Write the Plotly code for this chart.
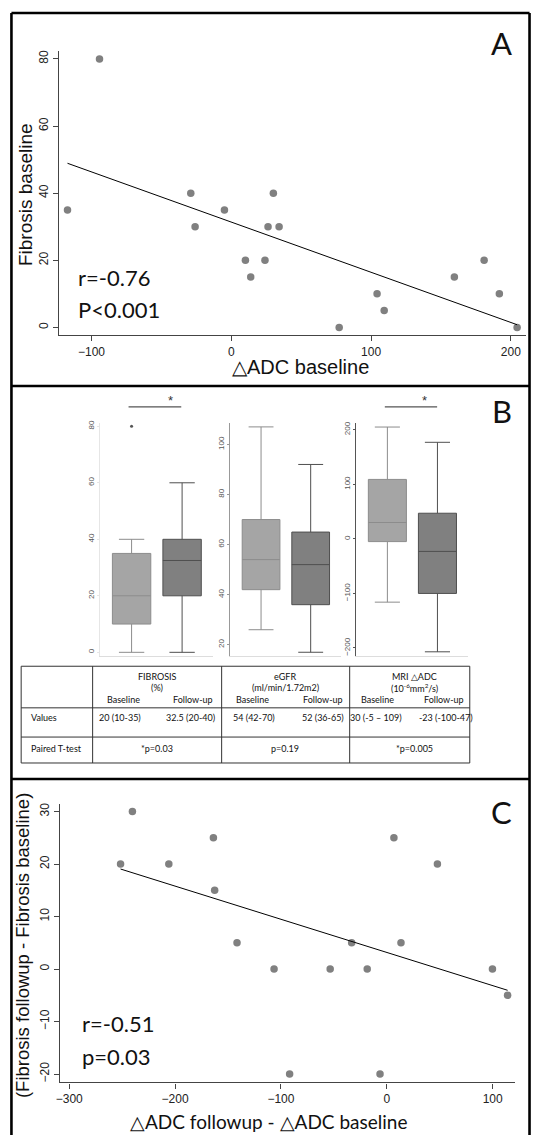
import plotly.graph_objects as go

# ---------------- data ----------------
# Panel A
a_delta_adc = [-117.2, -94.3, -29.0, -25.9, -4.9, 10.1, 13.9, 24.1, 26.3, 30.1, 34.2,
               77.2, 104.3, 109.4, 159.6, 180.9, 191.8, 204.5]
a_fibrosis = [35, 80, 40, 30, 35, 20, 15, 20, 30, 40, 30, 0, 10, 5, 15, 20, 10, 0]
a_fit_x = [-117.2, 204.5]
a_fit_y = [48.9, 0.8]
a_stats = ["r=-0.76", "P<0.001"]

# Panel B (box statistics)
groups = ["Baseline", "Follow-up"]
fib_q1 = [10, 20]; fib_med = [20, 32.5]; fib_q3 = [35, 40]; fib_lo = [0, 0]; fib_hi = [40, 60]
fib_outlier = [80]
egfr_q1 = [42, 36]; egfr_med = [54, 52]; egfr_q3 = [70, 65]; egfr_lo = [26, 17]; egfr_hi = [107, 92]
adc_q1 = [-5, -100]; adc_med = [30, -23]; adc_q3 = [109, 47]; adc_lo = [-116, -207]; adc_hi = [205, 177]

# Table
tbl_heads = ["FIBROSIS", "eGFR", "MRI △ADC"]
tbl_units = ["(%)", "(ml/min/1.72m2)", "(10<sup>-6</sup>mm<sup>2</sup>/s)"]
tbl_sub = ["Baseline", "Follow-up"] * 3
tbl_values = ["20 (10-35)", "32.5 (20-40)", "54 (42-70)", "52 (36-65)", "30 (-5 – 109)", "-23 (-100-47)"]
tbl_tests = ["*p=0.03", "p=0.19", "*p=0.005"]
tbl_rows = ["Values", "Paired T-test"]

# Panel C
c_delta_adc = [-251.5, -240.3, -205.9, -163.8, -162.6, -141.5, -106.5, -91.8, -53.5, -33.2,
               -18.5, -6.4, 6.7, 13.4, 47.8, 99.8, 114.1]
c_fibrosis = [20, 30, 20, 25, 15, 5, 0, -20, 0, 5, 0, -20, 25, 5, 20, 0, -5]
c_fit_x = [-251.5, 114.1]
c_fit_y = [19.05, -4.05]
c_stats = ["r=-0.51", "p=0.03"]

# ---------------- layout helpers ----------------
W, H = 533, 1135
def fx(p):
    return p / W
def fy(p):
    return 1 - p / H

ARIAL = "Liberation Sans, Arial, sans-serif"
CAL = "Lato, Carlito, Calibri, sans-serif"
DOT = "#808080"

fig = go.Figure()

# Panel A scatter
fig.add_trace(go.Scatter(x=a_delta_adc, y=a_fibrosis, mode="markers",
                         marker=dict(size=7.5, color=DOT), xaxis="x", yaxis="y",
                         showlegend=False, cliponaxis=False))
fig.add_trace(go.Scatter(x=a_fit_x, y=a_fit_y, mode="lines",
                         line=dict(color="black", width=1), xaxis="x", yaxis="y",
                         showlegend=False))

# Panel B boxes
base_fill, fu_fill = "#a5a5a5", "#808080"
base_line, fu_line = "#8c8c8c", "#4f4f4f"
sets = [
    ("x2", "y2", fib_q1, fib_med, fib_q3, fib_lo, fib_hi),
    ("x3", "y3", egfr_q1, egfr_med, egfr_q3, egfr_lo, egfr_hi),
    ("x4", "y4", adc_q1, adc_med, adc_q3, adc_lo, adc_hi),
]
for xa, ya, q1, med, q3, lo, hi in sets:
    for i, g in enumerate(groups):
        fig.add_trace(go.Box(
            x=[g], q1=[q1[i]], median=[med[i]], q3=[q3[i]],
            lowerfence=[lo[i]], upperfence=[hi[i]],
            fillcolor=base_fill if i == 0 else fu_fill,
            line=dict(color=base_line if i == 0 else fu_line, width=1),
            width=0.76, whiskerwidth=0.66, boxpoints=False,
            xaxis=xa, yaxis=ya, showlegend=False, hoverinfo="skip"))
fig.add_trace(go.Scatter(x=[groups[0]] * len(fib_outlier), y=fib_outlier, mode="markers",
                         marker=dict(size=3, color="#555"), xaxis="x2", yaxis="y2",
                         showlegend=False))

# Panel C scatter
fig.add_trace(go.Scatter(x=c_delta_adc, y=c_fibrosis, mode="markers",
                         marker=dict(size=7.5, color=DOT), xaxis="x5", yaxis="y5",
                         showlegend=False, cliponaxis=False))
fig.add_trace(go.Scatter(x=c_fit_x, y=c_fit_y, mode="lines",
                         line=dict(color="black", width=1), xaxis="x5", yaxis="y5",
                         showlegend=False))

tickfont = dict(family=ARIAL, size=12, color="#222")
main_ax = dict(showline=True, linecolor="#444", linewidth=1.2, ticks="outside", ticklen=5,
               tickcolor="#444", showgrid=False, zeroline=False, tickfont=tickfont)

box_y = dict(ticks="outside", ticklen=2, showgrid=False, zeroline=False, showline=True,
             linewidth=1, tickangle=-90, tickfont=dict(family=ARIAL, size=8, color="#555"))
box_x = dict(showticklabels=False, ticks="", showline=True, linecolor="#dddddd", linewidth=1,
             showgrid=False, zeroline=False, type="category", categoryorder="array",
             categoryarray=groups, range=[-0.62, 1.62])

layout = dict(
    width=W, height=H, autosize=False, margin=dict(l=0, r=0, t=0, b=0),
    paper_bgcolor="white", plot_bgcolor="white", showlegend=False,
    xaxis=dict(domain=[fx(55.1), fx(526)], range=[-123.5, 210.9], tickvals=[-100, 0, 100, 200],
               anchor="y", **main_ax),
    yaxis=dict(domain=[fy(333), fy(48.3)], range=[-2.3, 82.3], tickvals=[0, 20, 40, 60, 80],
               tickangle=-90, anchor="x", **main_ax),
    xaxis2=dict(domain=[fx(97), fx(211)], anchor="y2", **box_x),
    yaxis2=dict(domain=[fy(655), fy(421)], range=[-1.4, 81.2], tickvals=[0, 20, 40, 60, 80],
                anchor="x2", linecolor="#e6e6e6", tickcolor="#e6e6e6", **box_y),
    xaxis3=dict(domain=[fx(228), fx(340)], anchor="y3", **box_x),
    yaxis3=dict(domain=[fy(655), fy(421)], range=[15.4, 108.6], tickvals=[20, 40, 60, 80, 100],
                anchor="x3", linecolor="#999", tickcolor="#999", **box_y),
    xaxis4=dict(domain=[fx(355), fx(468)], anchor="y4", **box_x),
    yaxis4=dict(domain=[fy(655), fy(421)], range=[-215.2, 212.6],
                tickvals=[-200, -100, 0, 100, 200],
                anchor="x4", linecolor="#555", tickcolor="#555", **box_y),
    xaxis5=dict(domain=[fx(56.1), fx(515.3)], range=[-309, 121.5],
                tickvals=[-300, -200, -100, 0, 100], anchor="y5", **main_ax),
    yaxis5=dict(domain=[fy(1082.3), fy(803.3)], range=[-21.6, 31.4],
                tickvals=[-20, -10, 0, 10, 20, 30], tickangle=-90, anchor="x5", **main_ax),
)
fig.update_layout(**layout)

shapes = []
# panel frames
BW = 2.6
def hline(x0, x1, y, color="black", width=BW):
    shapes.append(dict(type="line", xref="paper", yref="paper", x0=fx(x0), x1=fx(x1),
                       y0=fy(y), y1=fy(y), line=dict(color=color, width=width)))
def vline(x, y0, y1, color="black", width=BW):
    shapes.append(dict(type="line", xref="paper", yref="paper", x0=fx(x), x1=fx(x),
                       y0=fy(y0), y1=fy(y1), line=dict(color=color, width=width)))
hline(7.5, 529.5, 10)
hline(7.5, 529.5, 384)
hline(7.5, 529.5, 778)
vline(7.5, 10, 1135)
vline(529.5, 10, 1135)

# significance bars
hline(125.5, 178.6, 405, color="#555", width=1.3)
hline(383.7, 436.4, 405, color="#555", width=1.3)

# table grid
TL, TR, TT, TB = 17.3, 469.3, 665, 762
tc = "#333"
hline(TL, TR, TT, tc, 1)
hline(TL, TR, 706.7, tc, 1)
hline(TL, TR, 736, tc, 1)
hline(TL, TR, TB, tc, 1)
for xv in [TL, 89.3, 219.3, 348.3, TR]:
    vline(xv, TT, TB, tc, 1)

fig.update_layout(shapes=shapes)

ann = []
def text(t, x, y, size, family=CAL, xanchor="center", angle=0, color="#111"):
    ann.append(dict(text=t, x=fx(x), y=fy(y), xref="paper", yref="paper", showarrow=False,
                    xanchor=xanchor, yanchor="middle", textangle=angle,
                    font=dict(family=family, size=size, color=color)))

# Panel letters
text("A", 501.7, 40, 31)
text("B", 501.7, 409, 31)
text("C", 501.7, 811, 31)

# Panel A texts
text(a_stats[0], 73, 275, 22, xanchor="left")
text(a_stats[1], 73, 307, 22, xanchor="left")
text("Fibrosis baseline", 21, 191.7, 19, family=ARIAL, angle=-90)
text("△ADC baseline", 299, 365, 20, family=ARIAL)

# Panel B asterisks
text("*", 167.7, 399, 13, family=ARIAL, color="#333")
text("*", 423.5, 399, 13, family=ARIAL, color="#333")

# Table texts
TS = 9
head_x = [154.3, 283.3, 413.3]
sub_x = [120, 190, 250, 321.7, 376.7, 443.3]
val_x = [117.3, 188.3, 252, 321.7, 375, 445]
for i in range(3):
    text(tbl_heads[i], head_x[i], 675, TS)
    text(tbl_units[i], head_x[i], 686.7, TS)
    text(tbl_tests[i], head_x[i], 747.3, TS)
for i in range(6):
    text(tbl_sub[i], sub_x[i], 698.3, TS)
    text(tbl_values[i], val_x[i], 716.7, TS)
text(tbl_rows[0], 25, 716.7, TS, xanchor="left")
text(tbl_rows[1], 25, 747.3, TS, xanchor="left")

# Panel C texts
text(c_stats[0], 77, 1023.3, 22, xanchor="left")
text(c_stats[1], 77, 1056.7, 22, xanchor="left")
text("(Fibrosis followup - Fibrosis baseline)", 18.7, 945, 18.5, family=ARIAL, angle=-90)
text("△ADC followup - △ADC baseline", 267, 1121.7, 19)

fig.update_layout(annotations=ann)

fig.write_html("out.html", config={"displayModeBar": False},
               post_script="document.body.style.margin='0';document.body.style.overflow='hidden';")
